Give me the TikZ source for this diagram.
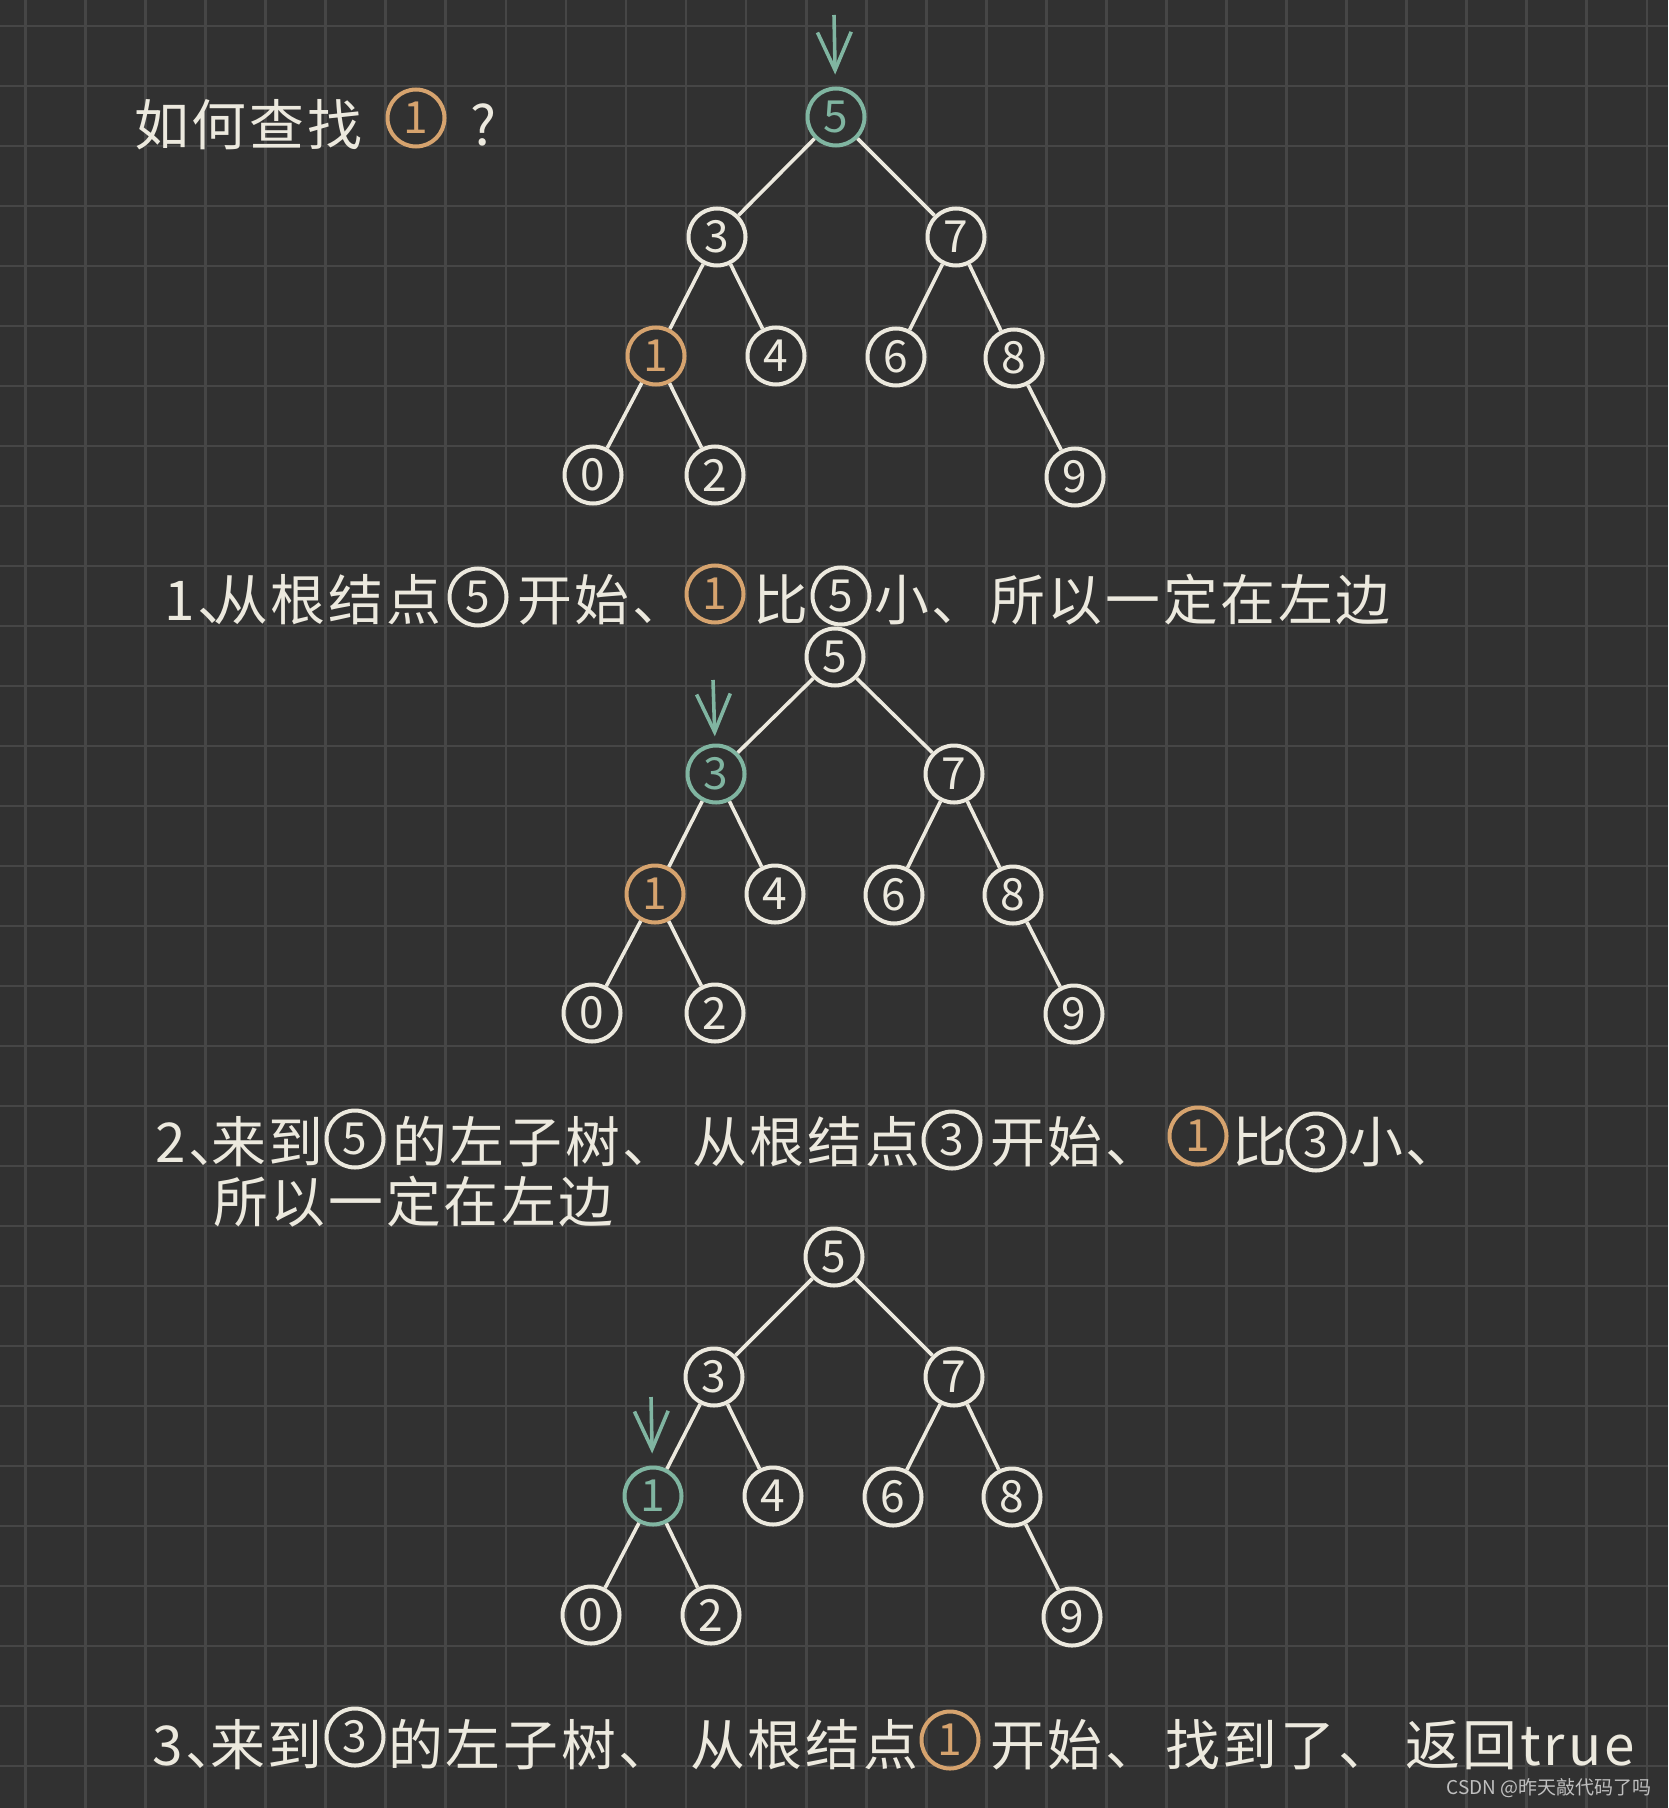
\documentclass[tikz,border=0pt]{standalone}
\usepackage{fontspec}
\setmainfont{Noto Sans CJK SC}
\newfontfamily\hand{Noto Sans CJK SC}[LetterSpace=5,RawFeature=+halt]
\usetikzlibrary{arrows.meta}

\definecolor{board}{RGB}{49,49,49}
\definecolor{gridc}{RGB}{70,70,70}
\definecolor{chalk}{RGB}{236,233,222}
\definecolor{mint}{RGB}{128,181,161}
\definecolor{peach}{RGB}{214,163,110}
\definecolor{wmark}{RGB}{192,192,192}

\begin{document}
\begin{tikzpicture}[x=0.1666667mm,y=-0.1666667mm,
	num/.style={circle,draw=chalk,text=chalk,line width=1.9pt,minimum size=0.95cm,inner sep=0pt,font=\fontsize{21}{21}\selectfont},
	seen/.style={num,draw=mint,text=mint},
	goal/.style={num,draw=peach,text=peach},
	edge/.style={chalk,line width=1.7pt},
	pointer/.style={mint,line width=1.7pt,-{Straight Barb[length=18pt,width=16pt]},shorten >=0.2cm},
	say/.style={anchor=west,inner sep=0pt,text=chalk,text height=21pt,text depth=2pt,font=\hand\fontsize{26}{26}\selectfont}]
				\useasboundingbox (0,0) rectangle (1668,1808);
				\fill[board] (0,0) rectangle (1668,1808);
				\foreach \i in {0,...,27} \draw[gridc,line width=1.3pt] ({25.5+60.05*\i},0) -- ({25.5+60.05*\i},1808);
				\foreach \j in {0,...,29} \draw[gridc,line width=1.3pt] (0,{26+60*\j}) -- (1668,{26+60*\j});
				
				% question
				\node[say] (q1) at (134,125) {如何查找};
				\node[goal] (q2) at (416,118) {1};
				\node[say] (q3) at (470,125) {?};
				
				% first tree
				\node[seen] (t1n5) at (836,117) {5};
				\node[num] (t1n3) at (717,237) {3};
				\node[num] (t1n7) at (956,237) {7};
				\node[goal] (t1n1) at (656,356) {1};
				\node[num] (t1n4) at (776,356) {4};
				\node[num] (t1n6) at (896,357) {6};
				\node[num] (t1n8) at (1014,358) {8};
				\node[num] (t1n0) at (593,475) {0};
				\node[num] (t1n2) at (715,475) {2};
				\node[num] (t1n9) at (1075,477) {9};
				\draw[edge] (t1n5) -- (t1n3) (t1n5) -- (t1n7) (t1n3) -- (t1n1) (t1n3) -- (t1n4) (t1n7) -- (t1n6)
					(t1n7) -- (t1n8) (t1n1) -- (t1n0) (t1n1) -- (t1n2) (t1n8) -- (t1n9);
				\coordinate (t1top) at (834,15);
				\draw[pointer] (t1top) -- (t1n5);
				
				% step 1
				\node[say] (s1a) at (164,600) {1、};
				\node[say] (s1b) at (213,600) {从根结点};
				\node[num] (s1c) at (478,597) {5};
				\node[say] (s1d) at (517,600) {开始、};
				\node[goal] (s1e) at (715,594) {1};
				\node[say] (s1f) at (753,600) {比};
				\node[num] (s1g) at (841,596) {5};
				\node[say] (s1h) at (874,600) {小、};
				\node[say] (s1i) at (990,600) {所以一定在左边};
				
				% second tree
				\node[num] (t2n5) at (835,657) {5};
				\node[seen] (t2n3) at (716,774) {3};
				\node[num] (t2n7) at (954,774) {7};
				\node[goal] (t2n1) at (655,894) {1};
				\node[num] (t2n4) at (775,894) {4};
				\node[num] (t2n6) at (894,895) {6};
				\node[num] (t2n8) at (1013,895) {8};
				\node[num] (t2n0) at (592,1013) {0};
				\node[num] (t2n2) at (715,1013) {2};
				\node[num] (t2n9) at (1074,1014) {9};
				\draw[edge] (t2n5) -- (t2n3) (t2n5) -- (t2n7) (t2n3) -- (t2n1) (t2n3) -- (t2n4) (t2n7) -- (t2n6)
					(t2n7) -- (t2n8) (t2n1) -- (t2n0) (t2n1) -- (t2n2) (t2n8) -- (t2n9);
				\coordinate (t2top) at (713,680);
				\draw[pointer,shorten >=0.12cm] (t2top) -- (t2n3);
				
				% step 2
				\node[say] (s2a) at (155,1142) {2、};
				\node[say] (s2b) at (211,1142) {来到};
				\node[num] (s2c) at (355,1139) {5};
				\node[say] (s2d) at (392,1142) {的左子树、};
				\node[say] (s2e) at (692,1142) {从根结点};
				\node[num] (s2f) at (952,1140) {3};
				\node[say] (s2g) at (990,1142) {开始、};
				\node[goal] (s2h) at (1198,1136) {1};
				\node[say] (s2i) at (1232,1142) {比};
				\node[num] (s2j) at (1316,1142) {3};
				\node[say] (s2k) at (1348,1142) {小、};
				\node[say] (s2l) at (213,1202) {所以一定在左边};
				
				% third tree
				\node[num] (t3n5) at (834,1257) {5};
				\node[num] (t3n3) at (714,1377) {3};
				\node[num] (t3n7) at (954,1377) {7};
				\node[seen] (t3n1) at (653,1496) {1};
				\node[num] (t3n4) at (773,1496) {4};
				\node[num] (t3n6) at (893,1497) {6};
				\node[num] (t3n8) at (1012,1497) {8};
				\node[num] (t3n0) at (591,1615) {0};
				\node[num] (t3n2) at (711,1615) {2};
				\node[num] (t3n9) at (1072,1617) {9};
				\draw[edge] (t3n5) -- (t3n3) (t3n5) -- (t3n7) (t3n3) -- (t3n1) (t3n3) -- (t3n4) (t3n7) -- (t3n6)
					(t3n7) -- (t3n8) (t3n1) -- (t3n0) (t3n1) -- (t3n2) (t3n8) -- (t3n9);
				\coordinate (t3top) at (651,1397);
				\draw[pointer] (t3top) -- (t3n1);
				
				% step 3
				\node[say] (s3a) at (152,1745) {3、};
				\node[say] (s3b) at (210,1745) {来到};
				\node[num] (s3c) at (355,1737) {3};
				\node[say] (s3d) at (388,1745) {的左子树、};
				\node[say] (s3e) at (690,1745) {从根结点};
				\node[goal] (s3f) at (950,1740) {1};
				\node[say] (s3g) at (990,1745) {开始、};
				\node[say] (s3h) at (1165,1745) {找到了、};
				\node[say] (s3i) at (1405,1745) {返回true};
				
				\node[anchor=east,inner sep=0pt,text=wmark,font=\fontsize{9}{9}\selectfont] (wm) at (1652,1788) {CSDN @昨天敲代码了吗};
			\end{tikzpicture}
\end{document}
